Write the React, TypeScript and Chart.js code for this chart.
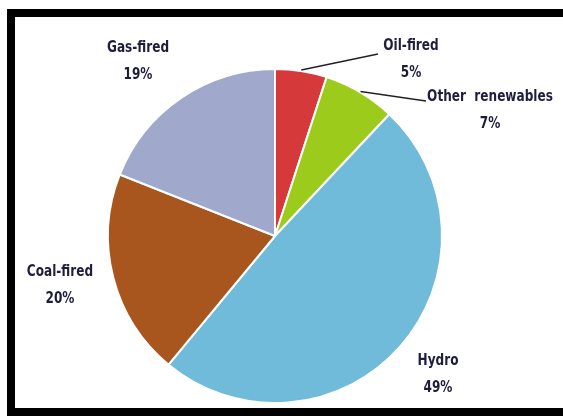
import React, { useEffect, useRef } from "react";
import { Chart, registerables } from "chart.js";

Chart.register(...registerables);

const categories = ["Oil-fired", "Other renewables", "Hydro", "Coal-fired", "Gas-fired"];
const shares = [5, 7, 49, 20, 19];
const sliceColors = ["#d6393a", "#9dcb1b", "#70bbd9", "#a9561e", "#a0a9cc"];
const labelText = ["Oil-fired", "Other  renewables", "Hydro", "Coal-fired", "Gas-fired"];

// label placement (center of first line) and leader end point
const labelPlacement = [
  { x: 411, y: 46, leader: { x: 378, y: 54 } },
  { x: 490, y: 97, leader: { x: 426, y: 101 } },
  { x: 438, y: 361, leader: null },
  { x: 60, y: 272, leader: null },
  { x: 138, y: 48, leader: null },
];

const labelPlugin = {
  id: "sliceLabels",
  afterDraw(chart: any) {
    const ctx = chart.ctx;
    const meta = chart.getDatasetMeta(0);
    ctx.save();
    meta.data.forEach((arc: any, i: number) => {
      const p = labelPlacement[i];
      if (p.leader) {
        const mid = (arc.startAngle + arc.endAngle) / 2;
        const sx = arc.x + Math.cos(mid) * (arc.outerRadius + 1);
        const sy = arc.y + Math.sin(mid) * (arc.outerRadius + 1);
        ctx.beginPath();
        ctx.strokeStyle = "#222222";
        ctx.lineWidth = 1.5;
        ctx.moveTo(sx, sy);
        ctx.lineTo(p.leader.x, p.leader.y);
        ctx.stroke();
      }
      const sxScale = 0.84;
      ctx.save();
      ctx.translate(p.x, p.y);
      ctx.scale(sxScale, 1);
      ctx.fillStyle = "#1e1e3c";
      ctx.font = "bold 16px 'DejaVu Sans Condensed', 'Liberation Sans Narrow', sans-serif";
      ctx.textAlign = "center";
      ctx.textBaseline = "middle";
      ctx.fillText(labelText[i], 0, 0);
      ctx.fillText(shares[i] + "%", 0, 27);
      ctx.restore();
    });
    ctx.restore();
  },
};

export default function App() {
  const ref = useRef<HTMLCanvasElement | null>(null);
  useEffect(() => {
    if (!ref.current) return;
    const chart = new Chart(ref.current, {
      type: "pie",
      data: {
        labels: categories,
        datasets: [
          {
            data: shares,
            backgroundColor: sliceColors,
            borderColor: "#ffffff",
            borderWidth: 2,
          },
        ],
      },
      options: {
        animation: false,
        responsive: false,
        maintainAspectRatio: false,
        layout: { padding: { left: 107, right: 120, top: 68, bottom: 16 } },
        plugins: {
          legend: { display: false },
          tooltip: { enabled: false },
        },
      },
      plugins: [labelPlugin],
    });
    return () => chart.destroy();
  }, []);
  return (
    <div style={{ position: "absolute", left: 0, top: 0, width: 563, height: 420, background: "#ffffff", overflow: "hidden" }}>
      <canvas ref={ref} width={563} height={420} style={{ position: "absolute", left: 0, top: 0 }} />
      <div
        style={{
          position: "absolute",
          left: 7,
          top: 9,
          width: 620,
          height: 407,
          borderLeft: "8px solid #000",
          borderTop: "8px solid #000",
          borderBottom: "8px solid #000",
          boxSizing: "border-box",
          pointerEvents: "none",
        }}
      />
    </div>
  );
}
